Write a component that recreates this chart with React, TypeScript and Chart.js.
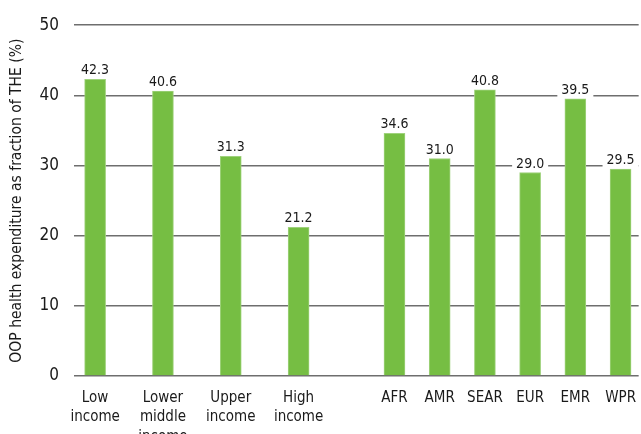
import React, { useEffect, useRef } from 'react';
import { Chart, registerables } from 'chart.js';

Chart.register(...registerables);

// ---- Data ----
const incomeGroups = ['Low income', 'Lower middle income', 'Upper income', 'High income'];
const incomeValues = [42.3, 40.6, 31.3, 21.2];
const regions = ['AFR', 'AMR', 'SEAR', 'EUR', 'EMR', 'WPR'];
const regionValues = [34.6, 31.0, 40.8, 29.0, 39.5, 29.5];
const yTicks = [0, 10, 20, 30, 40, 50];
const yTitle = 'OOP health expenditure as fraction of THE (%)';

// ---- Layout / style constants ----
const FONT = '"DejaVu Sans Condensed", "Liberation Sans", sans-serif';
const INCOME_STEP = 1.5;
const GROUP_GAP = 2.12;
const BAR_GREEN = '#76be43';
const GRID_GREY = '#6e6e6e';
const TEXT = '#1a1a1a';

export default function App() {
  const ref = useRef<HTMLCanvasElement | null>(null);

  useEffect(() => {
    if (!ref.current) return;
    const labels = [...incomeGroups, ...regions];
    const values = [...incomeValues, ...regionValues];
    const lastIncome = (incomeGroups.length - 1) * INCOME_STEP;
    const positions = [
      ...incomeGroups.map((_, i) => i * INCOME_STEP),
      ...regions.map((_, j) => lastIncome + GROUP_GAP + j),
    ];
    const data = positions.map((x, i) => ({ x, y: values[i] }));

    const valueLabels = {
      id: 'valueLabels',
      afterDatasetsDraw(chart: any) {
        const { ctx } = chart;
        const meta = chart.getDatasetMeta(0);
        ctx.save();
        ctx.font = `14px ${FONT}`;
        ctx.textAlign = 'center';
        ctx.textBaseline = 'alphabetic';
        meta.data.forEach((bar: any, i: number) => {
          const text = values[i].toFixed(1);
          const w = ctx.measureText(text).width;
          const base = bar.y - 5;
          ctx.fillStyle = '#ffffff';
          ctx.fillRect(bar.x - w / 2 - 4, base - 13, w + 8, 17);
          ctx.fillStyle = TEXT;
          ctx.fillText(text, bar.x, base);
        });
        ctx.restore();
      },
    };

    const chart = new Chart(ref.current, {
      type: 'bar',
      data: {
        datasets: [
          {
            data,
            backgroundColor: BAR_GREEN,
            borderColor: '#9fd27c',
            borderWidth: 1,
            barThickness: 21,
          },
        ],
      },
      options: {
        responsive: false,
        animation: false,
        layout: { padding: { top: 20, left: 0, right: 0, bottom: 0 } },
        plugins: {
          legend: { display: false },
          tooltip: { enabled: false },
        },
        scales: {
          x: {
            type: 'linear',
            offset: false,
            min: -0.467,
            max: 12.02,
            grid: { display: false },
            border: { display: false },
            afterBuildTicks: (axis: any) => {
              axis.ticks = positions.map((v) => ({ value: v }));
            },
            afterFit: (s: any) => {
              s.height = 58;
            },
            ticks: {
              autoSkip: false,
              maxRotation: 0,
              minRotation: 0,
              padding: 5,
              color: TEXT,
              font: { family: FONT, size: 15, lineHeight: 1.27 },
              callback: (_v: any, i: number) => labels[i].split(' '),
            },
          },
          y: {
            min: 0,
            max: 50,
            afterBuildTicks: (axis: any) => {
              axis.ticks = yTicks.map((v) => ({ value: v }));
            },
            afterFit: (s: any) => {
              s.width = 74;
            },
            grid: { color: GRID_GREY, lineWidth: 1.5, drawTicks: false },
            border: { display: false },
            ticks: {
              padding: 15,
              color: TEXT,
              font: { family: FONT, size: 17 },
            },
            title: {
              display: true,
              text: yTitle,
              color: TEXT,
              font: { family: FONT, size: 15.5 },
              padding: { top: 8, bottom: 0 },
            },
          },
        },
      },
      plugins: [valueLabels],
    } as any);

    return () => chart.destroy();
  }, []);

  return (
    <canvas
      ref={ref}
      width={641}
      height={434}
      style={{ position: 'absolute', left: 0, top: 0, display: 'block' }}
    />
  );
}
